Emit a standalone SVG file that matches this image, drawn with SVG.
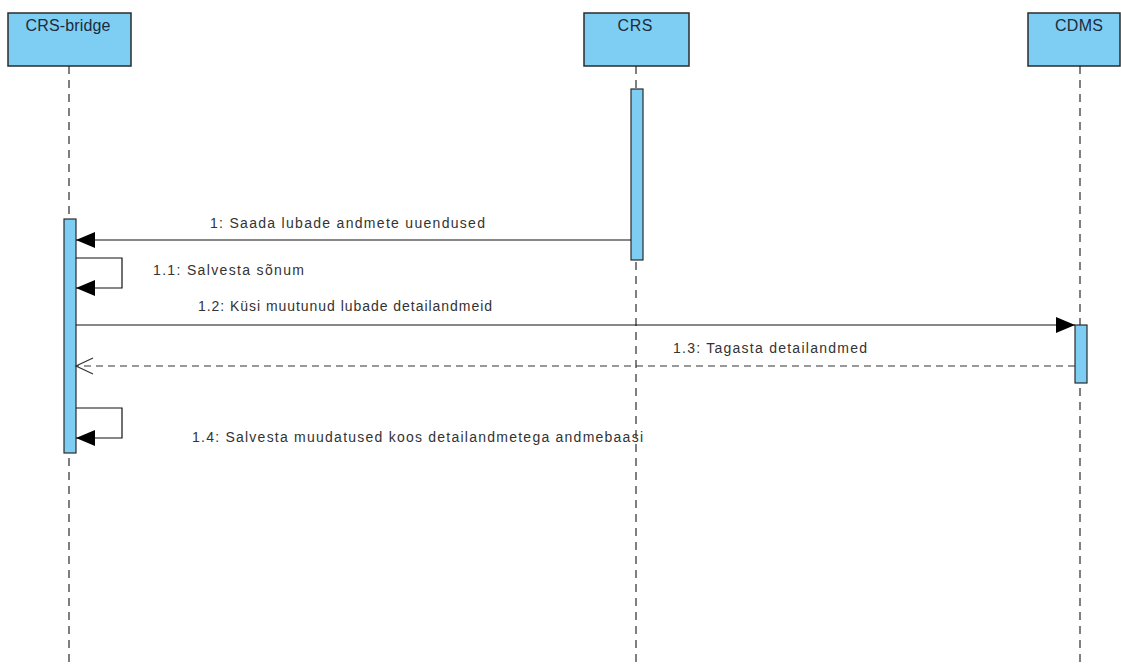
<svg xmlns="http://www.w3.org/2000/svg" width="1121" height="664" viewBox="0 0 1121 664">
<style>
.box{fill:#7ecef4;stroke:#2b2b2b;stroke-width:1.5}
.act{fill:#7ecef4;stroke:#2b2b2b;stroke-width:1.2}
.life{stroke:#2b2b2b;stroke-width:1.2;stroke-dasharray:8,6;fill:none}
.msg{stroke:#111;stroke-width:1.2;fill:none}
.ret{stroke:#333;stroke-width:1.2;fill:none;stroke-dasharray:7,5}
.t{font-family:"Liberation Sans",Arial,sans-serif;font-size:14px;fill:#333}
.h{font-family:"Liberation Sans",Arial,sans-serif;font-size:16px;fill:#1c2b3a;text-anchor:middle}
</style>
<defs>
<marker id="fill" markerWidth="20" markerHeight="16" refX="19" refY="8" orient="auto" markerUnits="userSpaceOnUse">
<path d="M0,0 L19,8 L0,16 Z" fill="#000"/>
</marker>
<marker id="open" markerWidth="20" markerHeight="18" refX="18" refY="9" orient="auto" markerUnits="userSpaceOnUse">
<path d="M1,1 L18,9 L1,17" fill="none" stroke="#333" stroke-width="1.2"/>
</marker>
</defs>
<rect width="1121" height="664" fill="#fff"/>
<g id="lifelines">
<line class="life" x1="69" y1="66" x2="69" y2="664"/>
<line class="life" x1="636" y1="66" x2="636" y2="664"/>
<line class="life" x1="1080" y1="66" x2="1080" y2="664"/>
</g>
<g id="node-crs-bridge">
<rect class="box" x="8" y="13" width="123" height="53"/>
<text class="h" x="68" y="31" textLength="85" lengthAdjust="spacing">CRS-bridge</text>
<rect class="act" x="64" y="219" width="12" height="234"/>
</g>
<g id="node-crs">
<rect class="box" x="584" y="13" width="105" height="53"/>
<text class="h" x="635" y="31" textLength="35" lengthAdjust="spacing">CRS</text>
<rect class="act" x="631" y="89" width="12" height="171"/>
</g>
<g id="node-cdms">
<rect class="box" x="1028" y="13" width="92" height="53"/>
<text class="h" x="1079" y="31" textLength="48" lengthAdjust="spacing">CDMS</text>
<rect class="act" x="1075" y="325" width="12" height="58"/>
</g>
<g id="connectors">
<line class="msg" x1="631" y1="240" x2="76" y2="240" marker-end="url(#fill)"/>
<polyline class="msg" points="76,258 122,258 122,288 76,288" marker-end="url(#fill)"/>
<line class="msg" x1="76" y1="325" x2="1075" y2="325" marker-end="url(#fill)"/>
<line class="ret" x1="1075" y1="366" x2="76" y2="366" marker-end="url(#open)"/>
<polyline class="msg" points="76,408 122,408 122,438 76,438" marker-end="url(#fill)"/>
<text class="t" x="210" y="228" textLength="275" lengthAdjust="spacing">1: Saada lubade andmete uuendused</text>
<text class="t" x="153" y="275" textLength="151" lengthAdjust="spacing">1.1: Salvesta sõnum</text>
<text class="t" x="198" y="311" textLength="294" lengthAdjust="spacing">1.2: Küsi muutunud lubade detailandmeid</text>
<text class="t" x="673" y="353" textLength="194" lengthAdjust="spacing">1.3: Tagasta detailandmed</text>
<text class="t" x="192" y="442" textLength="451" lengthAdjust="spacing">1.4: Salvesta muudatused koos detailandmetega andmebaasi</text>
</g>
</svg>
